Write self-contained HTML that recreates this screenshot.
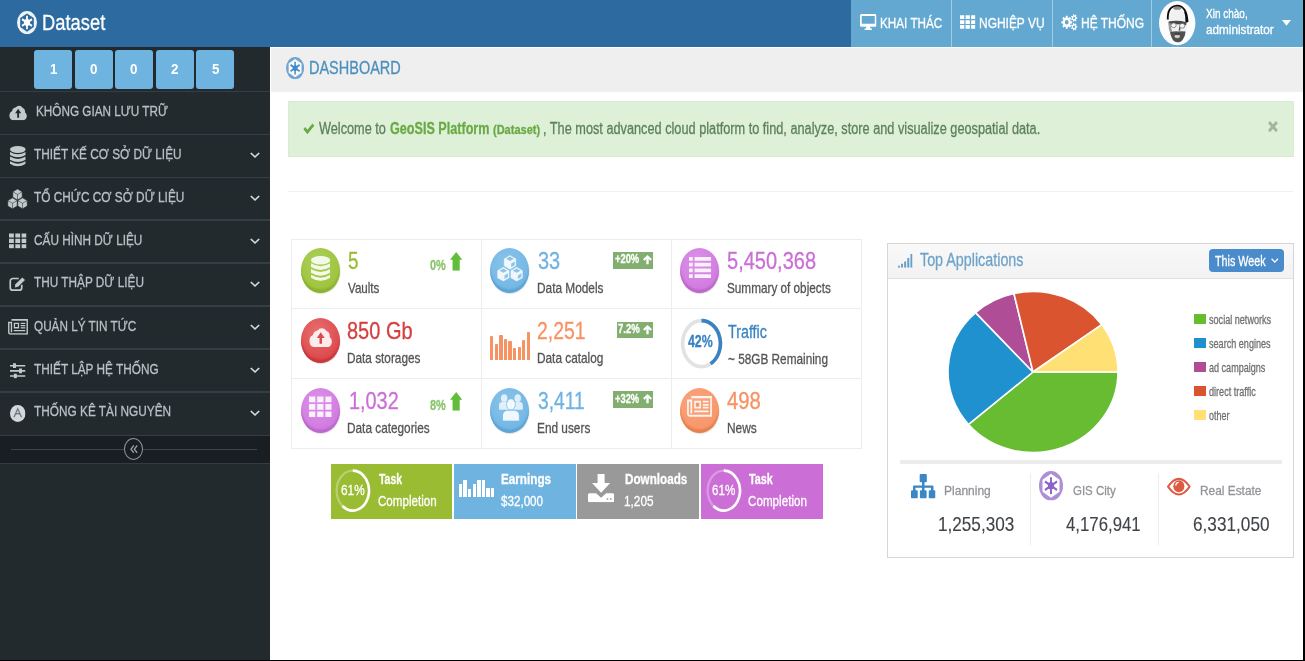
<!DOCTYPE html>
<html lang="vi"><head><meta charset="utf-8"><title>Dataset - Dashboard</title>
<style>
*{box-sizing:border-box;margin:0;padding:0}
html,body{width:1305px;height:661px;overflow:hidden;background:#fff;font-family:"Liberation Sans",sans-serif}
#pg{position:absolute;left:0;top:0;width:1305px;height:661px;overflow:hidden;background:#fff}
.a{position:absolute}
.t{position:absolute;white-space:nowrap;line-height:1;transform-origin:0 0;display:block;-webkit-text-stroke:.3px currentColor;filter:blur(.4px)}
svg{position:absolute;overflow:visible;display:block;filter:blur(.4px)}
/* header */
#hd{left:0;top:0;width:1305px;height:47.3px;background:#2c6aa0}
#nav{left:851px;top:0;width:454px;height:47.3px;background:#62a8d1}
.dv{top:0;width:1px;height:47px;background:#a2cbe6}
/* sidebar */
#sb{left:0;top:47px;width:270px;height:614px;background:#222a2d}
.sep{left:0;width:270px;height:1.4px;background:#343f45}
.sc{top:50px;width:38px;height:38.5px;background:#6fb3e0;border-radius:3px}
#col{left:0;top:435px;width:270px;height:29px;background:#181e21;border-top:1.3px solid #323c41;border-bottom:1.3px solid #323c41}
/* content */
#bc{left:271.3px;top:48px;width:1034px;height:44px;background:#efefef}
#al{left:288px;top:100.5px;width:1005.5px;height:56.5px;background:#dff0d8;border:1px solid #d9ecd0}
#hr1{left:288px;top:191px;width:1005px;height:1px;background:#efefef}
.ib{width:190.5px;height:70.5px;border:1px dotted #dcdcdc}
.ic{width:39.2px;height:45.2px;border-radius:50%}
.bd{height:16.8px;background:#82af6f}
.sm{top:463.7px;width:121.5px;height:55.3px}
/* widget */
#wd{left:887px;top:243px;width:407px;height:315px;border:1px solid #d6d6d6;background:#fff}
#wh{left:888px;top:244px;width:405px;height:34.5px;background:linear-gradient(#f9f9f9,#f2f2f2);border-bottom:1px solid #e0e0e0}
#bt{left:1208.8px;top:249.2px;width:75px;height:23.3px;background:#4a8ccb;border-radius:4px}
.lg{left:1193.7px;width:12.6px;height:10px}
.vd{top:472.5px;width:1px;height:72px;background:#ededed}
</style></head><body><div id="pg">
<svg width="0" height="0" style="position:absolute"><defs>
<symbol id="ge" preserveAspectRatio="none" viewBox="0 0 100 100"><path fill-rule="evenodd" opacity=".92" d="M50 0A50 50 0 1 0 50 100A50 50 0 1 0 50 0ZM50 11L84 30.500V69.500L50 89L16 69.500V30.500Z"/><circle cx="50" cy="50" r="15"/><g stroke="currentColor" stroke-width="9"><line x1="50" y1="21" x2="50" y2="79"/><line x1="25" y1="35.500" x2="75" y2="64.500"/><line x1="75" y1="35.500" x2="25" y2="64.500"/></g></symbol>
<symbol id="ge2" preserveAspectRatio="none" viewBox="0 0 100 100"><path fill="#fff" opacity=".6" d="M50 9L85.500 29.500V70.500L50 91L14.500 70.500V29.500Z"/><path fill-rule="evenodd" opacity=".72" d="M50 0A50 50 0 1 0 50 100A50 50 0 1 0 50 0ZM50 9L85.500 29.500V70.500L50 91L14.500 70.500V29.500Z"/><circle cx="50" cy="50" r="13"/><g stroke="currentColor" stroke-width="8"><line x1="50" y1="21" x2="50" y2="79"/><line x1="25" y1="35.500" x2="75" y2="64.500"/><line x1="75" y1="35.500" x2="25" y2="64.500"/></g></symbol>
<symbol id="cloud" preserveAspectRatio="none" viewBox="0 0 30 22"><path d="M6.500 22A6.500 6.500 0 0 1 5 9.400A7 7 0 0 1 11 4.600A7.800 7.800 0 0 1 22.300 5.200A5.800 5.800 0 0 1 26.400 11.600A5.600 5.600 0 0 1 24.200 22Z"/><path fill="var(--bg)" d="M15 6.500L20 12.600H16.600V18.500H13.400V12.600H10Z"/></symbol>
<symbol id="db" preserveAspectRatio="none" viewBox="0 0 24 30"><ellipse cx="12" cy="5" rx="12" ry="5"/><path d="M0 8.6Q12 15.4 24 8.6V13Q12 19.8 0 13Z"/><path d="M0 15.4Q12 22.2 24 15.4V19.8Q12 26.6 0 19.8Z"/><path d="M0 22.2Q12 29 24 22.2V25.6Q12 33 0 25.6Z"/></symbol>
<symbol id="cubes" preserveAspectRatio="none" viewBox="0 0 36 33"><g stroke="var(--bg)" stroke-width=".9" stroke-linejoin="round"><path d="M18 0L26 4.500V13.600L18 18.100L10 13.600V4.500Z"/><path d="M9.400 14.600L17.400 19.100V28.200L9.400 32.700L1.400 28.200V19.100Z"/><path d="M26.600 14.600L34.600 19.100V28.200L26.600 32.700L18.600 28.200V19.100Z"/><path fill="none" d="M10 4.500L18 9L26 4.500M18 9V18.100M1.400 19.100L9.400 23.600L17.400 19.100M9.400 23.600V32.700M18.600 19.100L26.600 23.600L34.600 19.100M26.600 23.600V32.700"/></g></symbol>
<symbol id="cubes2" preserveAspectRatio="none" viewBox="0 0 36 33"><g stroke="var(--bg)" stroke-width=".5" stroke-linejoin="round"><path d="M18 0L26 4.500V13.600L18 18.100L10 13.600V4.500Z"/><path d="M9.400 14.600L17.400 19.100V28.200L9.400 32.700L1.400 28.200V19.100Z"/><path d="M26.600 14.600L34.600 19.100V28.200L26.600 32.700L18.600 28.200V19.100Z"/></g><g fill="var(--bg)" opacity=".8"><path d="M18 2L23 4.700L18 7.400L13 4.700Z"/><path d="M19.500 10.500L24 8V12.500L19.500 15Z"/><path d="M9.400 16.600L14.400 19.300L9.400 22L4.400 19.300Z"/><path d="M10.900 25.100L15.400 22.600V27.100L10.900 29.600Z"/><path d="M26.600 16.600L31.600 19.300L26.600 22L21.600 19.300Z"/><path d="M28.100 25.100L32.600 22.600V27.100L28.100 29.600Z"/></g></symbol>
<symbol id="th" preserveAspectRatio="none" viewBox="0 0 18 16"><path d="M0 .4h5v4.2h-5zM6.5 .4h5v4.2h-5zM13 .4h5v4.2h-5zM0 5.9h5v4.2h-5zM6.5 5.9h5v4.2h-5zM13 5.9h5v4.2h-5zM0 11.4h5v4.2h-5zM6.5 11.4h5v4.2h-5zM13 11.4h5v4.2h-5z"/></symbol>
<symbol id="edit" preserveAspectRatio="none" viewBox="0 0 20 18"><path fill="none" stroke="currentColor" stroke-width="2" d="M11.5 3H4.5A3 3 0 0 0 1.5 6V14A3 3 0 0 0 4.5 17H12A3 3 0 0 0 15 14V10.5"/><path d="M7.5 9.8L15.6 1.7L18.8 4.9L10.7 13L6.8 13.7Z"/></symbol>
<symbol id="news" preserveAspectRatio="none" viewBox="0 0 26 18"><path fill="none" stroke="currentColor" stroke-width="1.8" d="M4.5 1H25V17H2.8A1.8 1.8 0 0 1 1 15.2V4H4.5V15"/><path d="M7.5 4.2h7v6.6h-7zM16.5 4.2h6v1.5h-6zM16.5 6.8h6v1.5h-6zM16.5 9.3h6v1.5h-6zM7.5 12.4h15v1.5h-15z"/><path fill="var(--bg)" d="M9.2 5.8h3.6v3.4h-3.6z"/></symbol>
<symbol id="sliders" preserveAspectRatio="none" viewBox="0 0 18 18"><path d="M0 2.2h18v1.8h-18zM0 8.1h18v1.8h-18zM0 14h18v1.8h-18zM3.5 .4h3.4v5.4h-3.4zM10.5 6.3h3.4v5.4h-3.4zM4.5 12.2h3.4v5.4h-3.4z"/></symbol>
<symbol id="circA" preserveAspectRatio="none" viewBox="0 0 18 18"><circle cx="9" cy="9" r="9" fill="#d3d8dc"/><path fill="none" stroke="#6d7780" stroke-width="1.5" d="M4.6 13L9 4L13.4 13M5.4 10.3Q9 8 12.6 10.3"/></symbol>
<symbol id="chev" preserveAspectRatio="none" viewBox="0 0 10 7"><path fill="none" stroke="currentColor" stroke-width="1.7" d="M.8 1L5 5.4L9.2 1"/></symbol>
<symbol id="dbl" preserveAspectRatio="none" viewBox="0 0 10 9"><path fill="none" stroke="currentColor" stroke-width="1.5" d="M4.8 .6L1.2 4.5L4.8 8.4M9 .6L5.4 4.5L9 8.4"/></symbol>
<symbol id="desk" preserveAspectRatio="none" viewBox="0 0 20 18"><path fill-rule="evenodd" d="M1.800 0H18.200A1.800 1.800 0 0 1 20 1.800V12.400A1.800 1.800 0 0 1 18.200 14.200H12.200L12.600 16H14.400V17.800H5.600V16H7.400L7.800 14.200H1.800A1.800 1.800 0 0 1 0 12.400V1.800A1.800 1.800 0 0 1 1.800 0ZM2.100 2.100V10.800H17.900V2.100Z"/></symbol>
<symbol id="caret" preserveAspectRatio="none" viewBox="0 0 10 6"><path d="M0 0H10L5 6Z"/></symbol>
<symbol id="check" preserveAspectRatio="none" viewBox="0 0 14 11"><path d="M.5 6L2.700 3.800L5.300 6.400L11.300 .4L13.500 2.600L5.300 10.800Z"/></symbol>
<symbol id="times" preserveAspectRatio="none" viewBox="0 0 10 10"><path fill="none" stroke="currentColor" stroke-width="2.8" d="M1 1L9 9M9 1L1 9"/></symbol>
<symbol id="aup" preserveAspectRatio="none" viewBox="0 0 12 19"><path d="M6 0L12 7.800H9.500V19H2.500V7.800H0Z"/></symbol>
<symbol id="aup2" preserveAspectRatio="none" viewBox="0 0 10 11"><path d="M5 0L10 5L8.300 6.700L6.300 4.700V11H3.700V4.700L1.700 6.700L0 5Z"/></symbol>
<symbol id="signal" preserveAspectRatio="none" viewBox="0 0 15 14"><path d="M0 12h2v2h-2zM3.200 10h2v4h-2zM6.400 7.500h2v6.500h-2zM9.600 4h2.100v10h-2.100zM12.900 0h2.100v14h-2.100z"/></symbol>
<symbol id="sitemap" preserveAspectRatio="none" viewBox="0 0 24 24"><path d="M9.500 0h5a1 1 0 0 1 1 1v6a1 1 0 0 1 -1 1h-1.300v3.200h7.800a1 1 0 0 1 1 1v3.800h1a1 1 0 0 1 1 1v6a1 1 0 0 1 -1 1h-4.600a1 1 0 0 1 -1 -1v-6a1 1 0 0 1 1 -1h1.200v-2.600h-6.400v2.600h1.100a1 1 0 0 1 1 1v6a1 1 0 0 1 -1 1h-4.600a1 1 0 0 1 -1 -1v-6a1 1 0 0 1 1 -1h1.100v-2.600h-6.400v2.600h1.200a1 1 0 0 1 1 1v6a1 1 0 0 1 -1 1h-4.600a1 1 0 0 1 -1 -1v-6a1 1 0 0 1 1 -1h1v-3.800a1 1 0 0 1 1 -1h7.800v-3.200h-1.300a1 1 0 0 1 -1 -1v-6a1 1 0 0 1 1 -1z"/></symbol>
<symbol id="eye" preserveAspectRatio="none" viewBox="0 0 24 18"><path fill="none" stroke="currentColor" stroke-width="2" d="M1 9Q12 -5.500 23 9Q12 23.500 1 9Z"/><circle cx="12" cy="8.600" r="5.600"/><path fill="none" stroke="#fff" stroke-width="1.200" d="M8.800 8A3.300 3.300 0 0 1 11.800 5"/></symbol>
<symbol id="down" preserveAspectRatio="none" viewBox="0 0 26 28"><path d="M9.500 0h7v9h5.500L13 18.500L4 9h5.500zM1.500 19h6.500l5 4.500l5 -4.500h6.500a1.500 1.500 0 0 1 1.500 1.500v6a1.500 1.500 0 0 1 -1.500 1.500h-23a1.500 1.500 0 0 1 -1.500 -1.500v-6a1.500 1.500 0 0 1 1.500 -1.500z"/><path fill="var(--bg)" d="M18.500 24h1.600v1.600h-1.600zM21.800 24h1.600v1.600h-1.600z"/></symbol>
<symbol id="users" preserveAspectRatio="none" viewBox="0 0 26 28"><g opacity=".85"><ellipse cx="5.600" cy="4.200" rx="3.500" ry="3.900"/><path d="M0 16v-4.500a3.500 3.500 0 0 1 3.500 -3.500h4.500a3.500 3.500 0 0 1 3.500 3.500v4.500z"/><ellipse cx="20.400" cy="4.200" rx="3.500" ry="3.900"/><path d="M14.500 16v-4.500a3.500 3.500 0 0 1 3.500 -3.500h4.500a3.500 3.500 0 0 1 3.500 3.500v4.500z"/></g><ellipse cx="13" cy="10.500" rx="4.700" ry="5.800" stroke="var(--bg)" stroke-width=".8"/><path stroke="var(--bg)" stroke-width=".8" d="M3.800 27.500v-5.500a5.500 5.500 0 0 1 5.500 -5.500h7.400a5.500 5.500 0 0 1 5.500 5.500v5.500z"/></symbol>
<symbol id="list" preserveAspectRatio="none" viewBox="0 0 20 18"><path d="M0 0h3.400v3.300h-3.400zM5 0h15v3.300h-15zM0 4.900h3.400v3.300h-3.400zM5 4.900h15v3.300h-15zM0 9.800h3.400v3.300h-3.400zM5 9.800h15v3.300h-15zM0 14.700h3.400v3.300h-3.400zM5 14.700h15v3.300h-15z"/></symbol>
</defs></svg>
<div id="hd" class="a" style=""></div>
<div id="nav" class="a" style=""></div>
<div class="a dv" style="left:950.5px"></div>
<div class="a dv" style="left:1052px"></div>
<div class="a dv" style="left:1151px"></div>
<svg width="20" height="23.2" preserveAspectRatio="none" style="left:17px;top:10.5px;color:#fff;fill:#fff;"><use href="#ge"/></svg>
<svg width="16.5" height="16.3" preserveAspectRatio="none" style="left:859.5px;top:13.7px;color:#fff;fill:#fff;"><use href="#desk"/></svg>
<svg width="15.4" height="14.2" preserveAspectRatio="none" style="left:960px;top:14.5px;color:#fff;fill:#fff;"><use href="#th"/></svg>
<svg width="16.5" height="17" viewBox="0 0 23 19.5" preserveAspectRatio="none" style="left:1061px;top:13.7px;fill:#fff"><path fill-rule="evenodd" d="M15.49 8.19L15.49 10.81L13.45 10.81L12.77 12.43L14.22 13.87L12.37 15.72L10.93 14.27L9.31 14.95L9.31 16.99L6.69 16.99L6.69 14.95L5.07 14.27L3.63 15.72L1.78 13.87L3.23 12.43L2.55 10.81L0.51 10.81L0.51 8.19L2.55 8.19L3.23 6.57L1.78 5.13L3.63 3.28L5.07 4.73L6.69 4.05L6.69 2.01L9.31 2.01L9.31 4.05L10.93 4.73L12.37 3.28L14.22 5.13L12.77 6.57L13.45 8.19ZM5.4 9.5A2.6 2.6 0 1 0 10.6 9.5A2.6 2.6 0 1 0 5.4 9.5ZM22.61 3.74L22.61 5.46L21.29 5.42L20.81 6.42L21.66 7.43L20.32 8.51L19.52 7.45L18.44 7.7L18.18 9L16.5 8.61L16.83 7.33L15.97 6.64L14.79 7.25L14.04 5.69L15.25 5.15L15.25 4.05L14.04 3.51L14.79 1.95L15.97 2.56L16.83 1.87L16.5 0.59L18.18 0.2L18.44 1.5L19.52 1.75L20.32 0.69L21.66 1.77L20.81 2.78L21.29 3.78ZM16.8 4.6A1.5 1.5 0 1 0 19.8 4.6A1.5 1.5 0 1 0 16.8 4.6ZM22.61 13.74L22.61 15.46L21.29 15.42L20.81 16.42L21.66 17.43L20.32 18.51L19.52 17.45L18.44 17.7L18.18 19L16.5 18.61L16.83 17.33L15.97 16.64L14.79 17.25L14.04 15.69L15.25 15.15L15.25 14.05L14.04 13.51L14.79 11.95L15.97 12.56L16.83 11.87L16.5 10.59L18.18 10.2L18.44 11.5L19.52 11.75L20.32 10.69L21.66 11.77L20.81 12.78L21.29 13.78ZM16.8 14.6A1.5 1.5 0 1 0 19.8 14.6A1.5 1.5 0 1 0 16.8 14.6Z"/></svg>
<svg width="9" height="5.8" preserveAspectRatio="none" style="left:1282px;top:19.7px;color:#fff;fill:#fff;"><use href="#caret"/></svg>
<svg width="36.4" height="44.2" viewBox="0 0 36.4 44.2" style="left:1159.4px;top:.7px"><defs><clipPath id="av"><ellipse cx="18.2" cy="22.1" rx="18.2" ry="22.1"/></clipPath><filter id="bl" x="-20%" y="-20%" width="140%" height="140%"><feGaussianBlur stdDeviation=".55"/></filter></defs><ellipse cx="18.2" cy="22.1" rx="18.2" ry="22.1" fill="#fcfcfc"/><g clip-path="url(#av)" filter="url(#bl)"><path d="M9.2 19Q8.600 26 10.800 32Q13.500 41 18.600 41.500Q24 41 26.500 32Q28.600 26 28 19Q27 9 18.600 8.500Q10 9 9.200 19Z" fill="#f1f1f1"/><path d="M8.800 18.500Q8.200 5.200 18.200 4.600Q27.800 5 28.500 21" fill="none" stroke="#0c0c0c" stroke-width="1.900"/><path d="M26.600 10Q28.800 15 28.300 22L26.400 21Q26.800 15 25.200 11Z" fill="#111"/><ellipse cx="18.300" cy="7.200" rx="4" ry="1.600" fill="#8a8a8a"/><path d="M9.600 20.500Q18.600 18.800 27.400 21.200L27.200 24.200Q18.600 22.600 9.800 24Z" fill="#4a4a4a"/><ellipse cx="14.600" cy="24.300" rx="2.600" ry="2.400" fill="#f4f4f4" stroke="#666" stroke-width=".7"/><ellipse cx="23.200" cy="24.800" rx="2.600" ry="2.400" fill="#f4f4f4" stroke="#666" stroke-width=".7"/><path d="M9.600 22Q9.200 28 11.500 33L13.500 31Q11.600 27 11.400 22Z" fill="#9a9a9a"/><path d="M20.500 25Q22 28 21 29.800L19.600 29.500Z" fill="#555"/><path d="M11.300 31.500Q14.500 30.200 18.600 30.400Q23.500 30.200 26.600 30.600Q25.800 37.500 22 40.500Q18.600 42.300 15.200 40.300Q11.800 37 11.300 31.500Z" fill="#3a3a3a" opacity=".88"/><ellipse cx="18.300" cy="35.300" rx="2.700" ry="2" fill="#c9c9c9"/><path d="M16.200 33.200h4.400" stroke="#1a1a1a" stroke-width=".9"/></g></svg>
<div id="sb" class="a" style=""></div>
<div class="a" style="left:270px;top:47px;width:1.4px;height:614px;background:#fff"></div>
<div class="a sc" style="left:34.2px"></div>
<div class="a sc" style="left:74.8px"></div>
<div class="a sc" style="left:115.3px"></div>
<div class="a sc" style="left:155.9px"></div>
<div class="a sc" style="left:196.4px"></div>
<div class="a sep" style="top:90.5px"></div>
<div class="a sep" style="top:133.5px"></div>
<div class="a sep" style="top:176.5px"></div>
<div class="a sep" style="top:219.4px"></div>
<div class="a sep" style="top:262.3px"></div>
<div class="a sep" style="top:305.3px"></div>
<div class="a sep" style="top:348.3px"></div>
<div class="a sep" style="top:391.3px"></div>
<div id="col" class="a" style=""></div>
<svg width="18.3" height="16.3" preserveAspectRatio="none" style="left:8.7px;top:103.7px;color:#c3cace;fill:#c3cace;--bg:#222a2d;"><use href="#cloud"/></svg>
<svg width="15.7" height="20.7" preserveAspectRatio="none" style="left:10px;top:145.5px;color:#c3cace;fill:#c3cace;--bg:#222a2d;"><use href="#db"/></svg>
<svg width="21" height="20" preserveAspectRatio="none" style="left:7px;top:188.7px;color:#c3cace;fill:#c3cace;--bg:#222a2d;"><use href="#cubes"/></svg>
<svg width="17.5" height="15.7" preserveAspectRatio="none" style="left:9.2px;top:233px;color:#c3cace;fill:#c3cace;--bg:#222a2d;"><use href="#th"/></svg>
<svg width="17" height="15" preserveAspectRatio="none" style="left:9.2px;top:276px;color:#c3cace;fill:#c3cace;--bg:#222a2d;"><use href="#edit"/></svg>
<svg width="20" height="15.8" preserveAspectRatio="none" style="left:8px;top:318.7px;color:#c3cace;fill:#c3cace;--bg:#222a2d;"><use href="#news"/></svg>
<svg width="15.5" height="15.7" preserveAspectRatio="none" style="left:10px;top:363px;color:#c3cace;fill:#c3cace;--bg:#222a2d;"><use href="#sliders"/></svg>
<svg width="15.5" height="17" preserveAspectRatio="none" style="left:10px;top:405px;color:#c3cace;fill:#c3cace;--bg:#222a2d;"><use href="#circA"/></svg>
<svg width="10" height="6.4" preserveAspectRatio="none" style="left:250px;top:152px;color:#d5dadd;fill:#d5dadd;"><use href="#chev"/></svg>
<svg width="10" height="6.4" preserveAspectRatio="none" style="left:250px;top:195px;color:#d5dadd;fill:#d5dadd;"><use href="#chev"/></svg>
<svg width="10" height="6.4" preserveAspectRatio="none" style="left:250px;top:238px;color:#d5dadd;fill:#d5dadd;"><use href="#chev"/></svg>
<svg width="10" height="6.4" preserveAspectRatio="none" style="left:250px;top:281px;color:#d5dadd;fill:#d5dadd;"><use href="#chev"/></svg>
<svg width="10" height="6.4" preserveAspectRatio="none" style="left:250px;top:324px;color:#d5dadd;fill:#d5dadd;"><use href="#chev"/></svg>
<svg width="10" height="6.4" preserveAspectRatio="none" style="left:250px;top:367px;color:#d5dadd;fill:#d5dadd;"><use href="#chev"/></svg>
<svg width="10" height="6.4" preserveAspectRatio="none" style="left:250px;top:410px;color:#d5dadd;fill:#d5dadd;"><use href="#chev"/></svg>
<div class="a" style="left:11px;top:449.2px;width:246px;height:1.2px;background:#3a4449"></div>
<div class="a" style="left:124.2px;top:438.2px;width:19.3px;height:22px;border-radius:50%;background:#181e21;border:1px solid #8e989e"></div>
<svg width="8" height="8.4" preserveAspectRatio="none" style="left:130px;top:445.2px;color:#9aa4aa;fill:#9aa4aa;"><use href="#dbl"/></svg>
<div id="bc" class="a" style=""></div>
<svg width="18.2" height="22.2" preserveAspectRatio="none" style="left:285.5px;top:57px;color:#4188c9;fill:#4188c9;"><use href="#ge2"/></svg>
<div id="al" class="a" style=""></div>
<svg width="11.7" height="11.4" preserveAspectRatio="none" style="left:303.3px;top:123.3px;color:#69aa46;fill:#69aa46;"><use href="#check"/></svg>
<svg width="9.9" height="11.2" preserveAspectRatio="none" style="left:1268.3px;top:121.4px;color:#a5b4a0;fill:#a5b4a0;"><use href="#times"/></svg>
<div id="hr1" class="a" style=""></div>
<div class="a" style="left:291.2px;top:238.7px;width:570.5px;height:1px;background:#ededed"></div>
<div class="a" style="left:291.2px;top:307.7px;width:570.5px;height:1px;background:#ededed"></div>
<div class="a" style="left:291.2px;top:377.7px;width:570.5px;height:1px;background:#ededed"></div>
<div class="a" style="left:291.2px;top:448.2px;width:570.5px;height:1px;background:#ededed"></div>
<div class="a" style="left:291.2px;top:238.7px;width:1px;height:210.5px;background:#ededed"></div>
<div class="a" style="left:481.1px;top:238.7px;width:1px;height:210.5px;background:#ededed"></div>
<div class="a" style="left:671.2px;top:238.7px;width:1px;height:210.5px;background:#ededed"></div>
<div class="a" style="left:860.7px;top:238.7px;width:1px;height:210.5px;background:#ededed"></div>
<div class="a ic" style="left:300.7px;top:248.1px;background:radial-gradient(ellipse 75% 70% at 42% 32%,#abcf58,#9ec43f 85%);box-shadow:inset 0 -3.500px 1.500px #8cb22f,.5px 1px 1px rgba(0,0,0,.13)"></div>
<svg width="19.2" height="25.4" preserveAspectRatio="none" style="left:310.9px;top:255.9px;color:rgba(255,255,255,.88);fill:rgba(255,255,255,.88);--bg:#9ec43f;"><use href="#db"/></svg>
<div class="a ic" style="left:300.7px;top:318px;background:radial-gradient(ellipse 75% 70% at 42% 32%,#e96e70,#dc4a4d 85%);box-shadow:inset 0 -3.500px 1.500px #c9393c,.5px 1px 1px rgba(0,0,0,.13)"></div>
<svg width="23.5" height="21.1" preserveAspectRatio="none" style="left:308.7px;top:326.3px;color:rgba(255,255,255,.88);fill:rgba(255,255,255,.88);--bg:#dc4a4d;"><use href="#cloud"/></svg>
<div class="a ic" style="left:300.7px;top:387.6px;background:radial-gradient(ellipse 75% 70% at 42% 32%,#db92e8,#d17be0 85%);box-shadow:inset 0 -3.500px 1.500px #bd68cd,.5px 1px 1px rgba(0,0,0,.13)"></div>
<svg width="22.7" height="21.6" preserveAspectRatio="none" style="left:309.2px;top:395.8px;color:rgba(255,255,255,.88);fill:rgba(255,255,255,.88);--bg:#d17be0;"><use href="#th"/></svg>
<div class="a ic" style="left:490.2px;top:248.1px;background:radial-gradient(ellipse 75% 70% at 42% 32%,#88c3eb,#74b7e4 85%);box-shadow:inset 0 -3.500px 1.500px #5ea5d6,.5px 1px 1px rgba(0,0,0,.13)"></div>
<svg width="28" height="26.8" preserveAspectRatio="none" style="left:495.8px;top:254.7px;color:rgba(255,255,255,.88);fill:rgba(255,255,255,.88);--bg:#74b7e4;"><use href="#cubes2"/></svg>
<div class="a ic" style="left:490.2px;top:387.6px;background:radial-gradient(ellipse 75% 70% at 42% 32%,#88c3eb,#74b7e4 85%);box-shadow:inset 0 -3.500px 1.500px #5ea5d6,.5px 1px 1px rgba(0,0,0,.13)"></div>
<svg width="23.9" height="27.6" preserveAspectRatio="none" style="left:498.5px;top:393.8px;color:rgba(255,255,255,.88);fill:rgba(255,255,255,.88);--bg:#74b7e4;"><use href="#users"/></svg>
<div class="a ic" style="left:680.3px;top:248.1px;background:radial-gradient(ellipse 75% 70% at 42% 32%,#db92e8,#d17be0 85%);box-shadow:inset 0 -3.500px 1.500px #bd68cd,.5px 1px 1px rgba(0,0,0,.13)"></div>
<svg width="22.2" height="21" preserveAspectRatio="none" style="left:689.1px;top:256.9px;color:rgba(255,255,255,.88);fill:rgba(255,255,255,.88);--bg:#d17be0;"><use href="#list"/></svg>
<div class="a ic" style="left:680.3px;top:387.6px;background:radial-gradient(ellipse 75% 70% at 42% 32%,#fba67f,#f7966a 85%);box-shadow:inset 0 -3.500px 1.500px #e7824e,.5px 1px 1px rgba(0,0,0,.13)"></div>
<svg width="25" height="20.9" preserveAspectRatio="none" style="left:687.3px;top:396.2px;color:rgba(255,255,255,.88);fill:rgba(255,255,255,.88);--bg:#f7966a;"><use href="#news"/></svg>
<div class="a" style="left:490.3px;top:336.21px;width:3.2px;height:23.69px;background:#f79263;border-radius:.8px .8px 0 0"></div>
<div class="a" style="left:494.84px;top:344.25px;width:3.2px;height:15.65px;background:#f79263;border-radius:.8px .8px 0 0"></div>
<div class="a" style="left:499.38px;top:335.17px;width:3.2px;height:24.73px;background:#f79263;border-radius:.8px .8px 0 0"></div>
<div class="a" style="left:503.92px;top:338.67px;width:3.2px;height:21.23px;background:#f79263;border-radius:.8px .8px 0 0"></div>
<div class="a" style="left:508.46px;top:340.72px;width:3.2px;height:19.18px;background:#f79263;border-radius:.8px .8px 0 0"></div>
<div class="a" style="left:513px;top:348.42px;width:3.2px;height:11.48px;background:#f79263;border-radius:.8px .8px 0 0"></div>
<div class="a" style="left:517.54px;top:347.01px;width:3.2px;height:12.89px;background:#f79263;border-radius:.8px .8px 0 0"></div>
<div class="a" style="left:522.08px;top:339.71px;width:3.2px;height:20.19px;background:#f79263;border-radius:.8px .8px 0 0"></div>
<div class="a" style="left:526.62px;top:331.7px;width:3.2px;height:28.2px;background:#f79263;border-radius:.8px .8px 0 0"></div>
<svg width="12.3" height="18.8" preserveAspectRatio="none" style="left:449.9px;top:252px;color:#63bd3d;fill:#63bd3d;"><use href="#aup"/></svg>
<svg width="12.3" height="18.8" preserveAspectRatio="none" style="left:449.9px;top:391.7px;color:#63bd3d;fill:#63bd3d;"><use href="#aup"/></svg>
<div class="a bd" style="left:613px;top:252px;width:40px"></div>
<div class="a bd" style="left:616.7px;top:321.600px;width:36.300px"></div>
<div class="a bd" style="left:613px;top:391.300px;width:40px"></div>
<svg width="9" height="9.6" preserveAspectRatio="none" style="left:643px;top:255.1px;color:#fff;fill:#fff;"><use href="#aup2"/></svg>
<svg width="9" height="9.6" preserveAspectRatio="none" style="left:643px;top:324.7px;color:#fff;fill:#fff;"><use href="#aup2"/></svg>
<svg width="9" height="9.6" preserveAspectRatio="none" style="left:643px;top:394.4px;color:#fff;fill:#fff;"><use href="#aup2"/></svg>
<svg width="45" height="53.2" viewBox="678.6 316.5 45 53.2" style="left:678.6px;top:316.5px"><ellipse cx="701.1" cy="343.1" rx="18.9" ry="23" fill="none" stroke="#e2e2e2" stroke-width="3.6"/><path d="M701.1 320.1A18.9 23 0 0 1 710.21 363.26" fill="none" stroke="#3983c2" stroke-width="3.6"/></svg>
<div class="a sm" style="left:330.6px;background:#9abc32"></div>
<div class="a sm" style="left:454px;background:#6fb3e0"></div>
<div class="a sm" style="left:577.4px;background:#999"></div>
<div class="a sm" style="left:701px;background:#cb6fd7"></div>
<svg width="37.6" height="45.2" viewBox="334.4 468.1 37.6 45.2" style="left:334.4px;top:468.1px"><ellipse cx="353.2" cy="490.7" rx="16.2" ry="20" fill="none" stroke="rgba(255,255,255,.3)" stroke-width="2.2"/><path d="M353.2 470.7A16.2 20 0 1 1 342.87 506.11" fill="none" stroke="#fff" stroke-width="2.6"/></svg>
<svg width="37.6" height="45.2" viewBox="704.8 468.1 37.6 45.2" style="left:704.8px;top:468.1px"><ellipse cx="723.6" cy="490.7" rx="16.2" ry="20" fill="none" stroke="rgba(255,255,255,.3)" stroke-width="2.2"/><path d="M723.6 470.7A16.2 20 0 1 1 713.27 506.11" fill="none" stroke="#fff" stroke-width="2.6"/></svg>
<div class="a" style="left:458.8px;top:483.64px;width:3.4px;height:13.06px;background:#fff"></div>
<div class="a" style="left:463.39px;top:480.1px;width:3.4px;height:16.6px;background:#fff"></div>
<div class="a" style="left:467.98px;top:488.57px;width:3.4px;height:8.13px;background:#fff"></div>
<div class="a" style="left:472.57px;top:483.92px;width:3.4px;height:12.78px;background:#fff"></div>
<div class="a" style="left:477.16px;top:480.1px;width:3.4px;height:16.6px;background:#fff"></div>
<div class="a" style="left:481.75px;top:480.1px;width:3.4px;height:16.6px;background:#fff"></div>
<div class="a" style="left:486.34px;top:488.23px;width:3.4px;height:8.47px;background:#fff"></div>
<div class="a" style="left:490.93px;top:488.23px;width:3.4px;height:8.47px;background:#fff"></div>
<svg width="26.2" height="28.3" preserveAspectRatio="none" style="left:587.5px;top:473.7px;color:#fff;fill:#fff;--bg:#999;"><use href="#down"/></svg>
<div id="wd" class="a" style=""></div>
<div id="wh" class="a" style=""></div>
<svg width="14.5" height="13.8" preserveAspectRatio="none" style="left:897.5px;top:253.7px;color:#669fc7;fill:#669fc7;"><use href="#signal"/></svg>
<div id="bt" class="a" style=""></div>
<svg width="7.6" height="5.4" preserveAspectRatio="none" style="left:1270.8px;top:258.4px;color:#fff;fill:#fff;"><use href="#chev"/></svg>
<svg width="180" height="172" viewBox="942.8 285.6 180 172" style="left:942.8px;top:285.6px"><path d="M1032.8 371.6L1117.8 371.6A85 80.5 0 0 1 968.34 424.07Z" fill="#68BC31" stroke="#fff" stroke-width="1.6" stroke-linejoin="round"/><path d="M1032.8 371.6L968.34 424.07A85 80.5 0 0 1 975.4 312.23Z" fill="#2091CF" stroke="#fff" stroke-width="1.6" stroke-linejoin="round"/><path d="M1032.8 371.6L975.4 312.23A85 80.5 0 0 1 1013.74 293.15Z" fill="#AF4E96" stroke="#fff" stroke-width="1.6" stroke-linejoin="round"/><path d="M1032.8 371.6L1013.74 293.15A85 80.5 0 0 1 1101.57 324.28Z" fill="#DA5430" stroke="#fff" stroke-width="1.6" stroke-linejoin="round"/><path d="M1032.8 371.6L1101.57 324.28A85 80.5 0 0 1 1117.8 371.6Z" fill="#FEE074" stroke="#fff" stroke-width="1.6" stroke-linejoin="round"/></svg>
<div class="a lg" style="top:314.2px;background:#68BC31"></div>
<div class="a lg" style="top:338.2px;background:#2091CF"></div>
<div class="a lg" style="top:362.4px;background:#AF4E96"></div>
<div class="a lg" style="top:386.1px;background:#DA5430"></div>
<div class="a lg" style="top:410.3px;background:#FEE074"></div>
<div class="a" style="left:900px;top:460.2px;width:382.3px;height:4.3px;background:#ececec"></div>
<div class="a vd" style="left:1030.3px"></div>
<div class="a vd" style="left:1158px"></div>
<svg width="24.5" height="24.5" preserveAspectRatio="none" style="left:910.5px;top:473.7px;color:#3a87c8;fill:#3a87c8;"><use href="#sitemap"/></svg>
<svg width="24" height="29.5" preserveAspectRatio="none" style="left:1039px;top:471.2px;color:#8f63c6;fill:#8f63c6;"><use href="#ge2"/></svg>
<svg width="23.7" height="19.4" preserveAspectRatio="none" style="left:1166.9px;top:477px;color:#dd5a43;fill:#dd5a43;"><use href="#eye"/></svg>
<div class="a" style="left:1303.3px;top:0;width:1.7px;height:661px;background:#000"></div>
<div class="a" style="left:0;top:659.8px;width:1305px;height:1.2px;background:#000"></div>
<span class="t" style="left:41.69px;top:11.05px;font-size:22.7px;color:#fff;transform:scaleX(0.8089)">Dataset</span>
<span class="t" style="left:879.72px;top:15.2px;font-size:15px;color:#fff;transform:scaleX(0.7818)">KHAI THÁC</span>
<span class="t" style="left:979.2px;top:15.2px;font-size:15px;color:#fff;transform:scaleX(0.7970)">NGHIỆP VỤ</span>
<span class="t" style="left:1080.7px;top:15.2px;font-size:15px;color:#fff;transform:scaleX(0.8000)">HỆ THỐNG</span>
<span class="t" style="left:1205.7px;top:7.5px;font-size:12.4px;color:#fff;transform:scaleX(0.8063)">Xin chào,</span>
<span class="t" style="left:1205.7px;top:23.1px;font-size:13.4px;color:#fff;transform:scaleX(0.8751)">administrator</span>
<span class="t" style="left:35.94px;top:102.5px;font-size:15.4px;color:#b9c1c6;transform:scaleX(0.7624)">KHÔNG GIAN LƯU TRỮ</span>
<span class="t" style="left:33.5px;top:145.5px;font-size:15.4px;color:#b9c1c6;transform:scaleX(0.7671)">THIẾT KẾ CƠ SỞ DỮ LIỆU</span>
<span class="t" style="left:33.5px;top:188.5px;font-size:15.4px;color:#b9c1c6;transform:scaleX(0.7691)">TỔ CHỨC CƠ SỞ DỮ LIỆU</span>
<span class="t" style="left:33.5px;top:231.5px;font-size:15.4px;color:#b9c1c6;transform:scaleX(0.7662)">CẤU HÌNH DỮ LIỆU</span>
<span class="t" style="left:33.5px;top:274.3px;font-size:15.4px;color:#b9c1c6;transform:scaleX(0.7665)">THU THẬP DỮ LIỆU</span>
<span class="t" style="left:33.5px;top:317.6px;font-size:15.4px;color:#b9c1c6;transform:scaleX(0.7623)">QUẢN LÝ TIN TỨC</span>
<span class="t" style="left:33.5px;top:360.5px;font-size:15.4px;color:#b9c1c6;transform:scaleX(0.7668)">THIẾT LẬP HỆ THỐNG</span>
<span class="t" style="left:33.5px;top:403.4px;font-size:15.4px;color:#b9c1c6;transform:scaleX(0.7686)">THỐNG KÊ TÀI NGUYÊN</span>
<span class="t" style="left:308.7px;top:58.7px;font-size:18px;color:#4c8fbd;transform:scaleX(0.8043)">DASHBOARD</span>
<span class="t" style="left:319.2px;top:120.9px;font-size:15.8px;color:#5c805c;transform:scaleX(0.8041)">Welcome to</span>
<span class="t" style="left:389.9px;top:120.9px;font-size:15.8px;color:#69aa46;font-weight:700;transform:scaleX(0.7977)">GeoSIS Platform</span>
<span class="t" style="left:493px;top:123.4px;font-size:13px;color:#69aa46;font-weight:700;transform:scaleX(0.8464)">(Dataset)</span>
<span class="t" style="left:542.69px;top:120.9px;font-size:15.8px;color:#5c805c;transform:scaleX(0.8058)">, The most advanced cloud platform to find, analyze, store and visualize geospatial data.</span>
<span class="t" style="left:348.2px;top:250.3px;font-size:23.4px;color:#9abc32;transform:scaleX(0.8077)">5</span>
<span class="t" style="left:348.2px;top:280.85px;font-size:14.5px;color:#555;transform:scaleX(0.8005)">Vaults</span>
<span class="t" style="left:347.35px;top:320.4px;font-size:23.4px;color:#d53f40;transform:scaleX(0.8545)">850 Gb</span>
<span class="t" style="left:347.39px;top:350.75px;font-size:14.5px;color:#555;transform:scaleX(0.8133)">Data storages</span>
<span class="t" style="left:348.55px;top:390.3px;font-size:23.4px;color:#cb6fd7;transform:scaleX(0.8492)">1,032</span>
<span class="t" style="left:347.39px;top:420.85px;font-size:14.5px;color:#555;transform:scaleX(0.8145)">Data categories</span>
<span class="t" style="left:538px;top:250.3px;font-size:23.4px;color:#6fb3e0;transform:scaleX(0.8517)">33</span>
<span class="t" style="left:537.18px;top:280.85px;font-size:14.5px;color:#555;transform:scaleX(0.8172)">Data Models</span>
<span class="t" style="left:537.17px;top:320.4px;font-size:23.4px;color:#f79263;transform:scaleX(0.8280)">2,251</span>
<span class="t" style="left:537.18px;top:350.75px;font-size:14.5px;color:#555;transform:scaleX(0.8152)">Data catalog</span>
<span class="t" style="left:537.8px;top:390.3px;font-size:23.4px;color:#6fb3e0;transform:scaleX(0.8210)">3,411</span>
<span class="t" style="left:537.18px;top:420.85px;font-size:14.5px;color:#555;transform:scaleX(0.8167)">End users</span>
<span class="t" style="left:727.4px;top:250.3px;font-size:23.4px;color:#cb6fd7;transform:scaleX(0.8559)">5,450,368</span>
<span class="t" style="left:727.4px;top:280.85px;font-size:14.5px;color:#555;transform:scaleX(0.8101)">Summary of objects</span>
<span class="t" style="left:727.9px;top:322.5px;font-size:18px;color:#3983c2;transform:scaleX(0.7938)">Traffic</span>
<span class="t" style="left:727.9px;top:352.05px;font-size:14.5px;color:#555;transform:scaleX(0.8132)">~ 58GB Remaining</span>
<span class="t" style="left:727.4px;top:390.3px;font-size:23.4px;color:#f79263;transform:scaleX(0.8654)">498</span>
<span class="t" style="left:726.58px;top:420.85px;font-size:14.5px;color:#555;transform:scaleX(0.8198)">News</span>
<span class="t" style="left:429.9px;top:258.2px;font-size:14px;color:#8cc56c;font-weight:700;transform:scaleX(0.7794)">0%</span>
<span class="t" style="left:429.9px;top:398px;font-size:14px;color:#8cc56c;font-weight:700;transform:scaleX(0.7794)">8%</span>
<span class="t" style="left:688.3px;top:334.2px;font-size:15.8px;color:#3983c2;font-weight:700;transform:scaleX(0.7824)">42%</span>
<span class="t" style="left:615px;top:253.4px;font-size:12px;color:#fff;font-weight:700;transform:scaleX(0.7782)">+20%</span>
<span class="t" style="left:618px;top:323px;font-size:12px;color:#fff;font-weight:700;transform:scaleX(0.7948)">7.2%</span>
<span class="t" style="left:615px;top:392.6px;font-size:12px;color:#fff;font-weight:700;transform:scaleX(0.7782)">+32%</span>
<span class="t" style="left:341.2px;top:482.65px;font-size:14.5px;color:#fff;transform:scaleX(0.8171)">61%</span>
<span class="t" style="left:378.7px;top:472.15px;font-size:14.5px;color:#fff;font-weight:700;transform:scaleX(0.7202)">Task</span>
<span class="t" style="left:378px;top:493.85px;font-size:14.5px;color:#fff;transform:scaleX(0.7997)">Completion</span>
<span class="t" style="left:501px;top:472.15px;font-size:14.5px;color:#fff;font-weight:700;transform:scaleX(0.8067)">Earnings</span>
<span class="t" style="left:501px;top:493.85px;font-size:14.5px;color:#fff;transform:scaleX(0.8023)">$32,000</span>
<span class="t" style="left:624.5px;top:472.15px;font-size:14.5px;color:#fff;font-weight:700;transform:scaleX(0.8050)">Downloads</span>
<span class="t" style="left:623.69px;top:493.85px;font-size:14.5px;color:#fff;transform:scaleX(0.8149)">1,205</span>
<span class="t" style="left:711.6px;top:482.65px;font-size:14.5px;color:#fff;transform:scaleX(0.7999)">61%</span>
<span class="t" style="left:748.6px;top:472.15px;font-size:14.5px;color:#fff;font-weight:700;transform:scaleX(0.7414)">Task</span>
<span class="t" style="left:747.9px;top:493.85px;font-size:14.5px;color:#fff;transform:scaleX(0.8038)">Completion</span>
<span class="t" style="left:920px;top:251.3px;font-size:18.4px;color:#6fa3c9;transform:scaleX(0.7784)">Top Applications</span>
<span class="t" style="left:1215px;top:253.7px;font-size:14px;color:#fff;transform:scaleX(0.7671)">This Week</span>
<span class="t" style="left:1208.8px;top:314.05px;font-size:12.3px;color:#707070;transform:scaleX(0.7389)">social networks</span>
<span class="t" style="left:1208.8px;top:338.05px;font-size:12.3px;color:#707070;transform:scaleX(0.7387)">search engines</span>
<span class="t" style="left:1208.8px;top:362.25px;font-size:12.3px;color:#707070;transform:scaleX(0.7355)">ad campaigns</span>
<span class="t" style="left:1208.8px;top:385.95px;font-size:12.3px;color:#707070;transform:scaleX(0.7392)">direct traffic</span>
<span class="t" style="left:1209px;top:410.05px;font-size:12.3px;color:#707070;transform:scaleX(0.7267)">other</span>
<span class="t" style="left:943.6px;top:484.3px;font-size:13.4px;color:#929498;transform:scaleX(0.8980)">Planning</span>
<span class="t" style="left:1073px;top:484.3px;font-size:13.4px;color:#929498;transform:scaleX(0.8574)">GIS City</span>
<span class="t" style="left:1199.81px;top:484.3px;font-size:13.4px;color:#929498;transform:scaleX(0.8868)">Real Estate</span>
<span class="t" style="left:938.33px;top:514.9px;font-size:19.8px;color:#40444a;-webkit-text-stroke:.12px;transform:scaleX(0.8667)">1,255,303</span>
<span class="t" style="left:1065.9px;top:514.9px;font-size:19.8px;color:#40444a;-webkit-text-stroke:.12px;transform:scaleX(0.8489)">4,176,941</span>
<span class="t" style="left:1193.23px;top:514.9px;font-size:19.8px;color:#40444a;-webkit-text-stroke:.12px;transform:scaleX(0.8701)">6,331,050</span>
<span class="t" style="left:49.5px;top:61.5px;font-size:14.8px;color:#fff;font-weight:700;-webkit-text-stroke:0;transform:scaleX(0.9000)">1</span>
<span class="t" style="left:89.8px;top:61.5px;font-size:14.8px;color:#fff;font-weight:700;-webkit-text-stroke:0;transform:scaleX(0.9000)">0</span>
<span class="t" style="left:130.3px;top:61.5px;font-size:14.8px;color:#fff;font-weight:700;-webkit-text-stroke:0;transform:scaleX(0.9000)">0</span>
<span class="t" style="left:170.9px;top:61.5px;font-size:14.8px;color:#fff;font-weight:700;-webkit-text-stroke:0;transform:scaleX(0.9000)">2</span>
<span class="t" style="left:211.6px;top:61.5px;font-size:14.8px;color:#fff;font-weight:700;-webkit-text-stroke:0;transform:scaleX(0.9000)">5</span>
</div></body></html>
